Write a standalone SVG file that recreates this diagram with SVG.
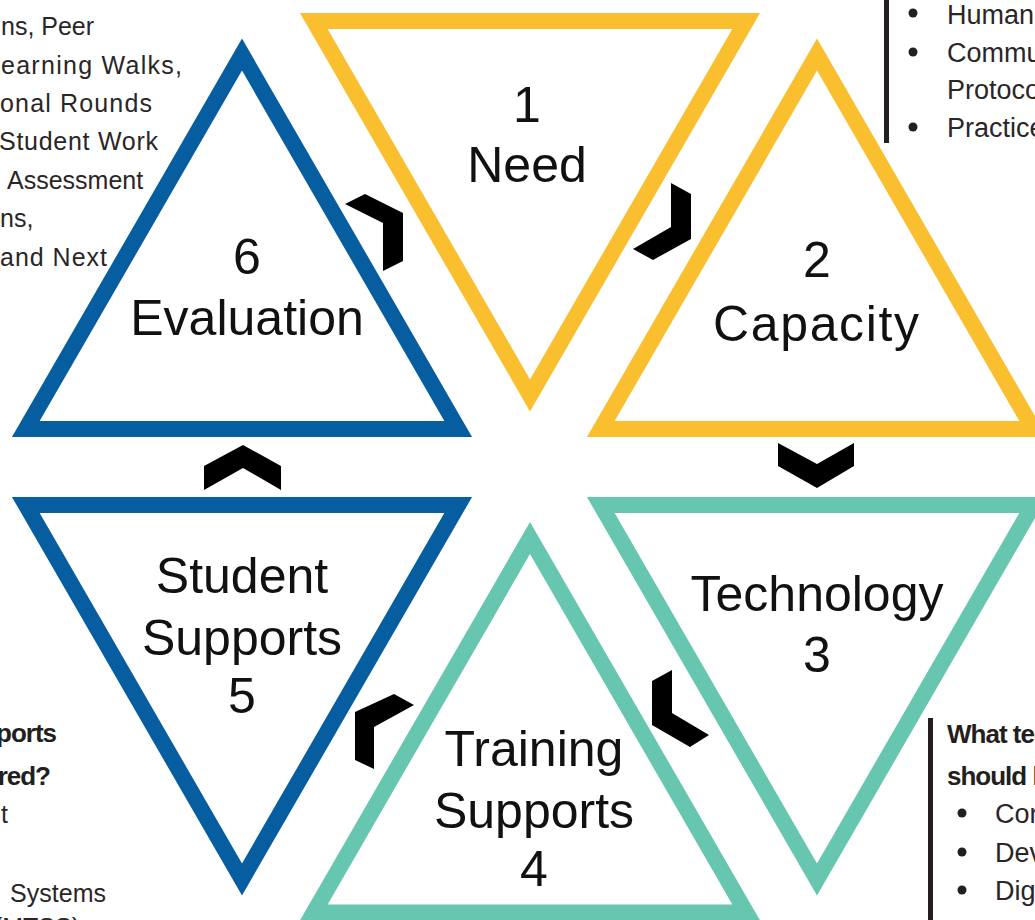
<svg xmlns="http://www.w3.org/2000/svg" width="1035" height="920" viewBox="0 0 1035 920">
<style>
.tri{fill:none;stroke-width:16;stroke-linejoin:miter;stroke-miterlimit:10}
.y{stroke:#F9BF2E}.b{stroke:#065EA1}.t{stroke:#67C6AF}
.lbl{font-family:"Liberation Sans",Arial,sans-serif;font-size:50px;fill:#111;text-anchor:middle}
.side{font-family:"Liberation Sans",Arial,sans-serif;font-size:25px;fill:#2a2627}
.sider{font-family:"Liberation Sans",Arial,sans-serif;font-size:27px;fill:#2a2627}
.bold{font-family:"Liberation Sans",Arial,sans-serif;font-size:26px;font-weight:bold;fill:#231f20;letter-spacing:-1px}
.chev{fill:#000}
.bar{fill:#231f20}
</style>
<rect width="1035" height="920" fill="#fff"/>
<g id="node-1-need">
<polygon class="tri y" points="313.8,21 746.2,21 530,395.4"/>
<text class="lbl" x="527" y="122">1</text>
<text class="lbl" x="527" y="182">Need</text>
</g>
<g id="node-2-capacity">
<polygon class="tri y" points="817,54.6 1033.2,429 600.8,429"/>
<text class="lbl" x="817" y="277">2</text>
<text class="lbl" x="816" y="341" textLength="206">Capacity</text>
</g>
<g id="node-3-technology">
<polygon class="tri t" points="600.8,505 1033.2,505 817,879.4"/>
<text class="lbl" x="817" y="611">Technology</text>
<text class="lbl" x="817" y="672">3</text>
</g>
<g id="node-4-training">
<polygon class="tri t" points="530,538 746.2,912.4 313.8,912.4"/>
<text class="lbl" x="534" y="766">Training</text>
<text class="lbl" x="534" y="828">Supports</text>
<text class="lbl" x="534" y="886">4</text>
</g>
<g id="node-5-student">
<polygon class="tri b" points="25.8,505 458.2,505 242,879.4"/>
<text class="lbl" x="242" y="593">Student</text>
<text class="lbl" x="242" y="655">Supports</text>
<text class="lbl" x="242" y="713">5</text>
</g>
<g id="node-6-evaluation">
<polygon class="tri b" points="242,54.6 458.2,429 25.8,429"/>
<text class="lbl" x="247" y="274">6</text>
<text class="lbl" x="247" y="335">Evaluation</text>
</g>
<g id="connectors">
<polygon class="chev" points="345,204 365,194 403,213 403,261 383,271 383,223"/>
<polygon class="chev" points="671,183 691,194 691,239 653,260 633,249 671,227"/>
<polygon class="chev" points="778,443 817,464 854,443 854,466 817,488 778,466"/>
<polygon class="chev" points="652,681 672,670 672,713 709,735 690,747 652,725"/>
<polygon class="chev" points="394,694 414,705 374,727 374,769 355,760 355,712"/>
<polygon class="chev" points="204,466 243,445 281,466 281,490 243,468 204,490"/>
</g>
<g id="text-top-left">
<text class="side" x="1" y="35">ns, Peer</text>
<text class="side" x="1" y="74" textLength="181">earning Walks,</text>
<text class="side" x="0" y="112" textLength="152">onal Rounds</text>
<text class="side" x="-1" y="150" textLength="159">Student Work</text>
<text class="side" x="7" y="189">Assessment</text>
<text class="side" x="0" y="227">ns,</text>
<text class="side" x="0" y="266" textLength="107">and Next</text>
</g>
<g id="text-top-right">
<rect class="bar" x="884" y="0" width="5" height="143"/>
<circle cx="913" cy="13" r="4.5" fill="#231f20"/>
<circle cx="913" cy="52" r="4.5" fill="#231f20"/>
<circle cx="913" cy="127" r="4.5" fill="#231f20"/>
<text class="sider" x="947" y="24">Human</text>
<text class="sider" x="947" y="62">Commu</text>
<text class="sider" x="947" y="99">Protoco</text>
<text class="sider" x="947" y="137">Practice</text>
</g>
<g id="text-bottom-left">
<text class="bold" x="56" y="742" text-anchor="end">ports</text>
<text class="bold" x="50" y="785" text-anchor="end">red?</text>
<text class="side" x="8" y="823" text-anchor="end">t</text>
<text class="side" x="10" y="902" textLength="96">Systems</text>
<text class="side" x="80" y="936" text-anchor="end">(MTSS)</text>
</g>
<g id="text-bottom-right">
<rect class="bar" x="928" y="718" width="5" height="202"/>
<text class="bold" x="947" y="743">What tec</text>
<text class="bold" x="947" y="785">should b</text>
<circle cx="962" cy="813" r="4.5" fill="#231f20"/>
<circle cx="962" cy="852" r="4.5" fill="#231f20"/>
<circle cx="962" cy="890" r="4.5" fill="#231f20"/>
<text class="sider" x="995" y="823">Cor</text>
<text class="sider" x="995" y="862">Dev</text>
<text class="sider" x="995" y="900">Dig</text>
<text class="sider" x="995" y="939">D</text>
</g>
</svg>
